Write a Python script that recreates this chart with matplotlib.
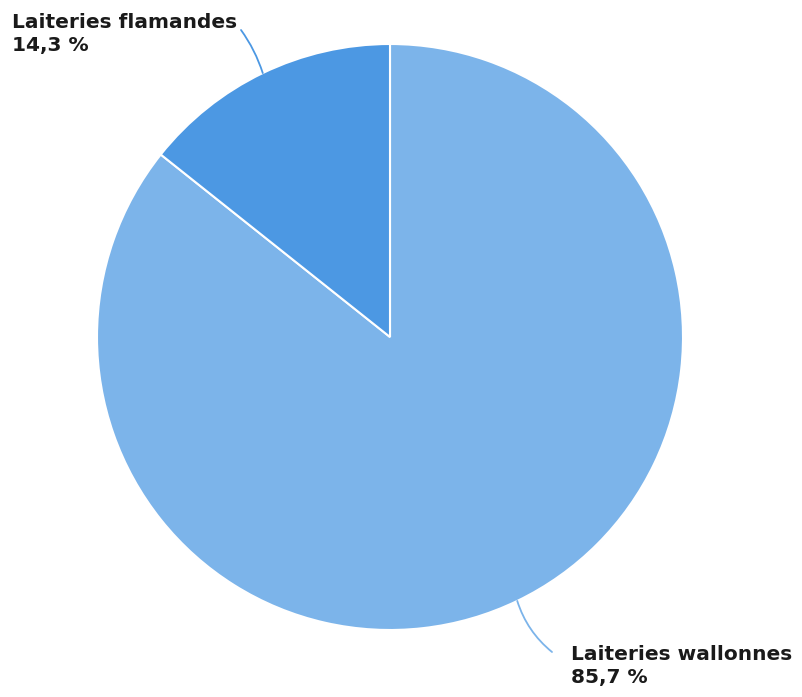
import numpy as np
import matplotlib
matplotlib.use("Agg")
import matplotlib.pyplot as plt

plt.rcParams["font.family"] = ["DejaVu Sans"]

labels = ["Laiteries wallonnes", "Laiteries flamandes"]
shares = [85.7, 14.3]
colors = ["#7cb4ea", "#4c98e3"]

W, H = 802, 697
fig = plt.figure(figsize=(W / 100, H / 100), dpi=100)
ax = fig.add_axes([0, 0, 1, 1])

cx, cy, r = 390, H - 337, 293
wedges, _ = ax.pie(shares, colors=colors, startangle=90, counterclock=False,
                   center=(cx, cy), radius=r, frame=True,
                   wedgeprops=dict(edgecolor="white", linewidth=1.5))
ax.set_xlim(0, W)
ax.set_ylim(0, H)
ax.set_aspect("equal")
ax.axis("off")

# connector end, text top-left corner, connector curvature
label_pos = {
    "Laiteries wallonnes": ((552, H - 652), (571, H - 645), -0.15),
    "Laiteries flamandes": ((241, H - 30), (12, H - 13), -0.08),
}

for w, name, val, col in zip(wedges, labels, shares, colors):
    mid = np.deg2rad((w.theta1 + w.theta2) / 2)
    px, py = cx + r * np.cos(mid), cy + r * np.sin(mid)
    end, tpos, rad = label_pos[name]
    ax.annotate("", xy=(px, py), xytext=end,
                arrowprops=dict(arrowstyle="-", color=col, lw=1.3,
                                connectionstyle=f"arc3,rad={rad}",
                                shrinkA=0, shrinkB=0))
    txt = f"{name}\n{val:.1f} %".replace(".", ",")
    ax.text(tpos[0], tpos[1], txt, ha="left", va="top", fontsize=14.5,
            fontweight="bold", color="#1a1a1a", linespacing=1.3)

fig.savefig("out.png", dpi=100)
